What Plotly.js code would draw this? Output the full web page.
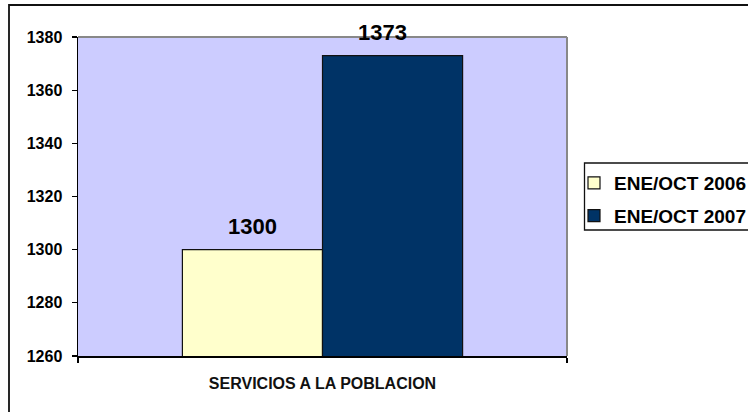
<!DOCTYPE html>
<html>
<head>
<meta charset="utf-8">
<script src="https://cdn.plot.ly/plotly-3.0.1.min.js"></script>
<style>
  html, body { margin: 0; padding: 0; background: #fff; }
  #chart { width: 748px; height: 412px; }
</style>
</head>
<body>
<div id="chart"></div>
<script>
// ---- data ----
const categories = ['SERVICIOS A LA POBLACION'];
const seriesNames = ['ENE/OCT 2006', 'ENE/OCT 2007'];
const values2006 = [1300];
const values2007 = [1373];
const yTickVals = [1260, 1280, 1300, 1320, 1340, 1360, 1380];

// ---- styling ----
const FONT = 'Liberation Sans, Arial, sans-serif';
const colors = ['#FFFFCC', '#003366'];
const bargap = 0.427;
const labelXShift = [0, -10];

// plot area geometry in pixels (for paper-referenced decorations)
const PL = 78, PR = 567, PT = 37, PB = 356;
const px2x = p => (p - PL) / (PR - PL);
const px2y = p => (PB - p) / (PB - PT);

const seriesValues = [values2006, values2007];
const traces = seriesValues.map((vals, i) => ({
  type: 'bar',
  name: seriesNames[i],
  x: categories,
  y: vals,
  marker: { color: colors[i], line: { color: '#111111', width: 1.2 } },
  legendgroup: 'g' + i,
  hoverinfo: 'none'
}));

const n = seriesValues.length;
const annotations = [];
seriesValues.forEach((vals, i) => {
  vals.forEach((v, j) => {
    annotations.push({
      xref: 'x', yref: 'y',
      x: j + (i - (n - 1) / 2) * (1 - bargap) / n,
      y: v,
      text: '<b>' + v + '</b>',
      showarrow: false,
      xanchor: 'center', yanchor: 'bottom',
      yshift: 9, xshift: labelXShift[i],
      font: { family: FONT, size: 22, color: '#000' }
    });
  });
});

const layout = {
  width: 748, height: 412,
  margin: { l: PL, r: 748 - PR, t: PT, b: 412 - PB, autoexpand: false },
  paper_bgcolor: '#ffffff',
  plot_bgcolor: '#CCCCFF',
  barmode: 'group',
  bargap: bargap,
  bargroupgap: 0,
  font: { family: FONT, size: 16, color: '#000' },
  showlegend: true,
  legend: {
    x: px2x(574), xanchor: 'left',
    y: px2y(164), yanchor: 'top',
    bgcolor: 'rgba(0,0,0,0)',
    borderwidth: 0,
    font: { family: FONT, size: 19, color: '#000', weight: 'bold' },
    traceorder: 'grouped',
    tracegroupgap: 5,
    itemwidth: 30
  },
  xaxis: {
    type: 'category',
    showline: true, linecolor: '#000', linewidth: 1.5,
    ticks: 'outside', tickson: 'boundaries', ticklen: 5, tickcolor: '#000', tickwidth: 1.2,
    tickfont: { family: FONT, size: 16, color: '#111', weight: 'bold' },
    ticklabelstandoff: 12,
    showgrid: false, zeroline: false, fixedrange: true
  },
  yaxis: {
    range: [1260, 1380],
    tickvals: yTickVals,
    ticktext: yTickVals.map(String),
    showline: true, linecolor: '#000', linewidth: 1.5,
    ticks: 'outside', ticklen: 5, tickcolor: '#000', tickwidth: 1.2,
    tickfont: { family: FONT, size: 16, color: '#000', weight: 'bold' },
    ticklabelstandoff: 6,
    showgrid: false, zeroline: false, fixedrange: true
  },
  annotations: annotations,
  shapes: [
    // grey plot-area border on top and right
    { type: 'line', xref: 'paper', yref: 'paper', x0: 0, x1: 1, y0: 1, y1: 1,
      line: { color: '#888888', width: 2 } },
    { type: 'line', xref: 'paper', yref: 'paper', x0: 1, x1: 1, y0: 0, y1: 1,
      line: { color: '#888888', width: 2 } },
    // legend frame (runs past the right edge)
    { type: 'rect', xref: 'paper', yref: 'paper',
      x0: px2x(584.5), x1: px2x(800), y0: px2y(230), y1: px2y(163),
      line: { color: '#111111', width: 1.3 }, fillcolor: 'rgba(0,0,0,0)', layer: 'above' },
    // outer chart frame (extends past right and bottom edges)
    { type: 'rect', xref: 'paper', yref: 'paper',
      x0: px2x(9), x1: px2x(1000), y0: px2y(700), y1: px2y(5),
      line: { color: '#111111', width: 1.8 }, layer: 'above' }
  ]
};

Plotly.newPlot('chart', traces, layout, { displayModeBar: false, staticPlot: true });
</script>
</body>
</html>
